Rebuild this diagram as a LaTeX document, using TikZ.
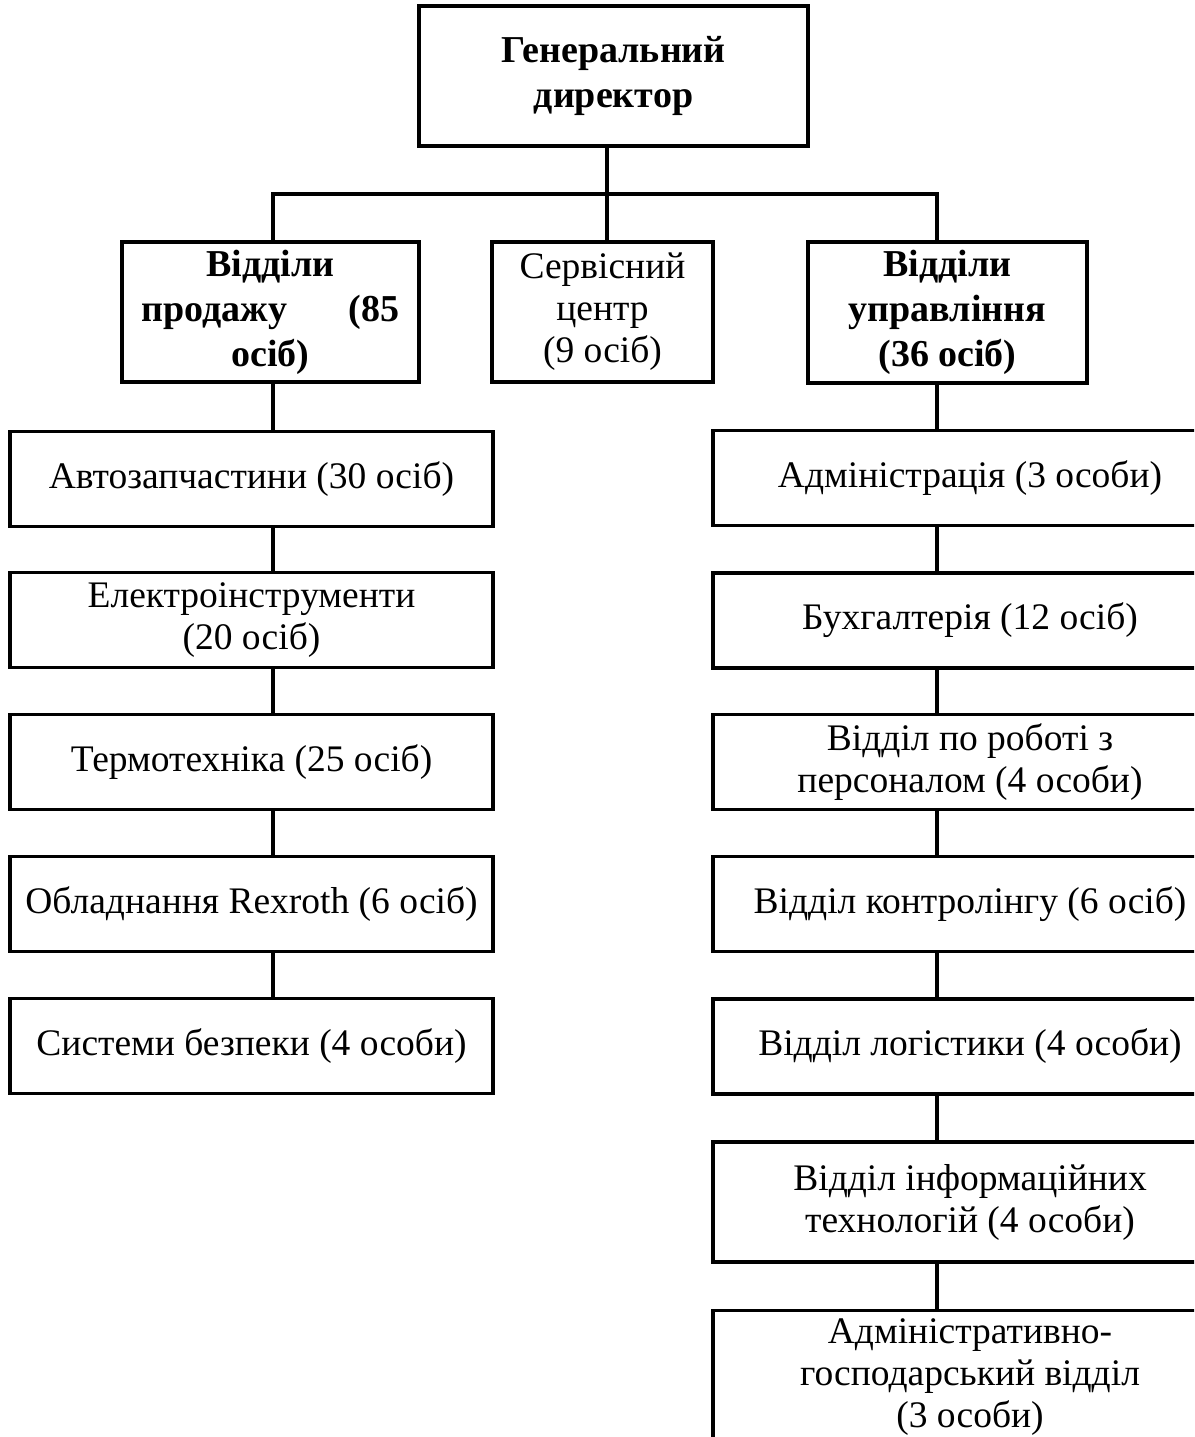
\documentclass[tikz,border=0pt]{standalone}
\usepackage{fontspec}
\setmainfont{Liberation Serif}
\usetikzlibrary{positioning}

\begin{document}
\begin{tikzpicture}
 	[x=1pt,y=-1pt,
 	dept/.style={draw=black,line width=3.2pt,inner sep=0pt,align=center,
 		font=\fontsize{37.5}{42}\selectfont},
 	dept1/.style={dept,font=\fontsize{38}{45}\selectfont\bfseries},
 	deptL/.style={dept,minimum width=483,minimum height=95},
 	deptR/.style={dept,minimum width=514,minimum height=95},
 	link/.style={black,line width=3.2pt}]
 	\clip (0,0) rectangle (1194,1437);
 	%  керівництво
 	\node[dept1,minimum width=389,minimum height=140] (dir) at (613.5,76) {Генеральний\\директор};
 	\node[dept1,minimum width=297,minimum height=140] (sales) at (270.5,312) {Відділи\\\makebox[258pt]{продажу\hfill(85}\\осіб)};
 	\node[dept,minimum width=221,minimum height=140] (serv) at (602.5,312) {Сервісний\\центр\\(9 осіб)};
 	\node[dept1,minimum width=279,minimum height=141] (mgmt) at (947.5,312.5) {Відділи\\управління\\(36 осіб)};
 	%  відділи продажу
 	\node[deptL] (avto) at (251.5,479) {Автозапчастини (30 осіб)};
 	\node[deptL] (elek) at (251.5,620) {Електроінструменти\\(20 осіб)};
 	\node[deptL] (term) at (251.5,762) {Термотехніка (25 осіб)};
 	\node[deptL] (rex) at (251.5,904) {Обладнання Rexroth (6 осіб)};
 	\node[deptL] (bezp) at (251.5,1046) {Системи безпеки (4 особи)};
 	%  відділи управління
 	\node[deptR] (adm) at (970,478) {Адміністрація (3 особи)};
 	\node[deptR] (buh) at (970,620.5) {Бухгалтерія (12 осіб)};
 	\node[deptR] (pers) at (970,762) {Відділ по роботі з\\персоналом (4 особи)};
 	\node[deptR] (ctrl) at (970,904) {Відділ контролінгу (6 осіб)};
 	\node[deptR] (log) at (970,1046.5) {Відділ логістики (4 особи)};
 	\node[deptR,minimum height=120] (it) at (970,1202) {Відділ інформаційних\\технологій (4 особи)};
 	\node[deptR,anchor=north,inner ysep=8pt] (ahv) at (970,1309) {Адміністративно-\\господарський відділ\\(3 особи)};
 	%  з'єднання
 	\coordinate (busL) at (273,194);
 	\coordinate (busM) at (607,194);
 	\coordinate (busR) at (937,194);
 	\draw[link] (dir.south -| busM) -- (busM);
 	\draw[link] (sales.north -| busL) -- (busL) -- (busR) -- (mgmt.north -| busR);
 	\draw[link] (busM) -- (serv.north -| busM);
 	\draw[link] (sales.south -| busL) -- (avto.north -| busL);
 	\foreach \a/\b in {avto/elek,elek/term,term/rex,rex/bezp}
 		\draw[link] (\a.south -| busL) -- (\b.north -| busL);
 	\draw[link] (mgmt.south -| busR) -- (adm.north -| busR);
 	\foreach \a/\b in {adm/buh,buh/pers,pers/ctrl,ctrl/log,log/it,it/ahv}
 		\draw[link] (\a.south -| busR) -- (\b.north -| busR);
\end{tikzpicture}
\end{document}
